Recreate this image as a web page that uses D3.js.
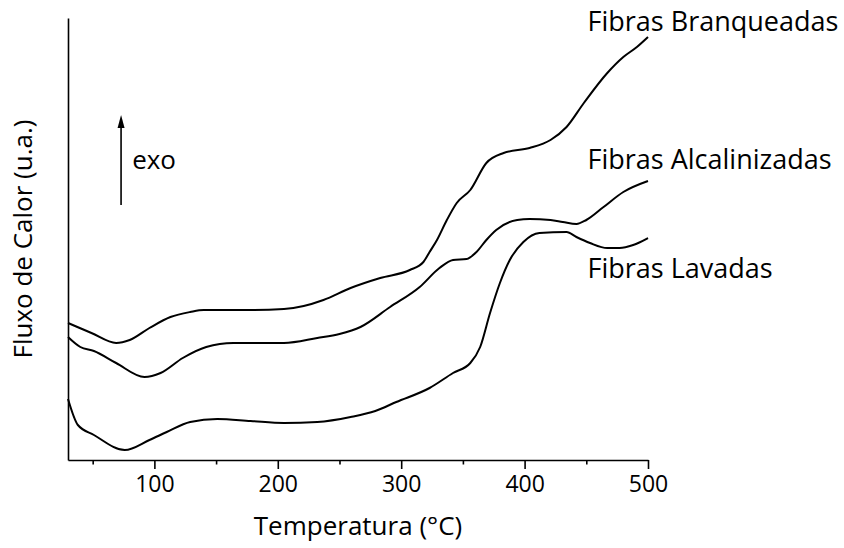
<!DOCTYPE html>
<html>
<head>
<meta charset="utf-8">
<script src="https://cdn.jsdelivr.net/npm/d3@7"></script>
<style>
  html, body { margin: 0; padding: 0; background: #fff; }
  svg text { font-family: "Open Sans", "Noto Sans", sans-serif; fill: #000; }
</style>
</head>
<body>
<div id="chart"></div>
<script>
// temperatures (°C) and heat flow (arbitrary units)
const tempBranq = [30, 49, 69, 80, 96, 113, 129, 140, 178, 205, 221, 237, 259, 283, 307, 318, 323, 329, 337, 345, 356, 369, 383, 404, 421, 434, 448, 467, 480, 491, 500];
const fluxBranq = [137, 127, 117, 120, 132, 143, 148, 150, 150, 151, 154, 160, 172, 182, 190, 198, 208, 220, 240, 257, 270, 297, 307, 312, 320, 333, 357, 387, 403, 413, 423];

const tempAlcal = [30, 40, 51, 69, 92, 105, 123, 142, 164, 205, 232, 250, 267, 291, 315, 331, 342, 353, 361, 369, 377, 394, 404, 421, 431, 442, 450, 464, 480, 500];
const fluxAlcal = [123, 113, 109, 97, 83, 87, 102, 113, 117, 117, 122, 126, 133, 153, 173, 192, 200, 201, 208, 220, 230, 240, 241, 240, 238, 236, 240, 253, 268, 279];

const tempLav = [30, 38, 51, 76, 96, 110, 129, 151, 178, 205, 232, 259, 279, 296, 323, 342, 356, 364, 372, 380, 388, 399, 412, 434, 442, 453, 467, 477, 488, 500];
const fluxLav = [61, 35, 25, 10, 20, 28, 38, 41, 39, 37, 38, 43, 49, 58, 72, 87, 97, 113, 147, 177, 200, 218, 227, 228, 223, 217, 212, 212, 215, 222];

const seriesNames = ["Fibras Branqueadas", "Fibras Alcalinizadas", "Fibras Lavadas"];
// label anchor: temperature and flux where each name sits
const labelTemp = [451, 451, 451];
const labelFlux = [429, 291, 182];

const majorTicks = [100, 200, 300, 400, 500];
const minorTicks = [50, 150, 250, 350, 450];

const width = 844, height = 548;
const margin = { top: 18, right: 196, bottom: 88, left: 68 };

const svg = d3.select('#chart').append('svg')
  .attr('width', width)
  .attr('height', height);

const x = d3.scaleLinear().domain([30, 500]).range([margin.left, width - margin.right]);
const y = d3.scaleLinear().domain([0, 442]).range([height - margin.bottom, margin.top]);

// x axis: major ticks with labels, minor ticks without
const xAxis = svg.append('g')
  .attr('transform', `translate(0,${height - margin.bottom})`)
  .call(d3.axisBottom(x).tickValues(majorTicks).tickSize(9).tickSizeOuter(0).tickFormat(d3.format('d')));
xAxis.select('.domain').attr('stroke-width', 1.6);
xAxis.selectAll('.tick line').attr('stroke-width', 1.6);
xAxis.selectAll('.tick text')
  .attr('font-size', '23px')
  .attr('font-family', '"Open Sans", sans-serif')
  .attr('y', 32)
  .attr('dy', 0);

svg.append('g')
  .attr('transform', `translate(0,${height - margin.bottom})`)
  .call(d3.axisBottom(x).tickValues(minorTicks).tickSize(4.5).tickSizeOuter(0).tickFormat(''))
  .call(g => g.select('.domain').remove())
  .selectAll('.tick line').attr('stroke-width', 1.6);

// y axis: plain line, no ticks
svg.append('g')
  .attr('transform', `translate(${margin.left},0)`)
  .call(d3.axisLeft(y).tickValues([]).tickSizeOuter(0))
  .select('.domain').attr('stroke-width', 1.6);

const line = d3.line()
  .x(d => x(d[0]))
  .y(d => y(d[1]))
  .curve(d3.curveMonotoneX);

const curves = [
  d3.zip(tempBranq, fluxBranq),
  d3.zip(tempAlcal, fluxAlcal),
  d3.zip(tempLav, fluxLav)
];

svg.append('g')
  .selectAll('path')
  .data(curves)
  .enter().append('path')
  .attr('d', line)
  .attr('fill', 'none')
  .attr('stroke', '#000')
  .attr('stroke-width', 2);

svg.append('g')
  .selectAll('text')
  .data(seriesNames)
  .enter().append('text')
  .attr('x', (d, i) => x(labelTemp[i]))
  .attr('y', (d, i) => y(labelFlux[i]))
  .attr('font-size', '27px')
  .text(d => d);

// exo arrow
svg.append('line')
  .attr('x1', x(73)).attr('x2', x(73))
  .attr('y1', y(255)).attr('y2', y(340))
  .attr('stroke', '#000')
  .attr('stroke-width', 1.6);

svg.append('path')
  .attr('d', `M${x(73)},${y(345)} l-3.5,13 l7,0 z`)
  .attr('fill', '#000');

svg.append('text')
  .attr('x', x(82)).attr('y', y(291))
  .attr('font-size', '26px')
  .text('exo');

// axis titles
svg.append('text')
  .attr('x', (margin.left + width - margin.right) / 2)
  .attr('y', 535)
  .attr('text-anchor', 'middle')
  .attr('font-size', '26px')
  .text('Temperatura (°C)');

svg.append('text')
  .attr('transform', `translate(32,${(margin.top + height - margin.bottom) / 2}) rotate(-90)`)
  .attr('text-anchor', 'middle')
  .attr('font-size', '26px')
  .text('Fluxo de Calor (u.a.)');
</script>
</body>
</html>
